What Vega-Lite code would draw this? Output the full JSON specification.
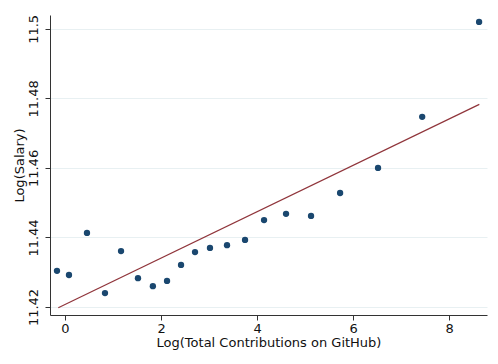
{
  "$schema": "https://vega.github.io/schema/vega-lite/v6.json",
  "width": 437,
  "height": 300,
  "autosize": {"type": "none"},
  "padding": {"left": 50, "top": 15, "right": 11, "bottom": 49},
  "background": "white",
  "config": {
    "view": {"stroke": null},
    "font": "DejaVu Sans",
    "axis": {
      "labelFont": "DejaVu Sans",
      "titleFont": "DejaVu Sans",
      "labelFontSize": 13,
      "titleFontSize": 13,
      "titleFontWeight": "normal",
      "labelColor": "#111111",
      "titleColor": "#111111",
      "domainColor": "#333333",
      "tickColor": "#333333",
      "tickSize": 5,
      "gridColor": "#e8f0f2",
      "gridWidth": 1
    }
  },
  "datasets": {
    "bins": [
      {"x": -0.167, "y": 11.4304},
      {"x": 0.083, "y": 11.4292},
      {"x": 0.458, "y": 11.4413},
      {"x": 0.833, "y": 11.4240},
      {"x": 1.167, "y": 11.4361},
      {"x": 1.52, "y": 11.4283},
      {"x": 1.83, "y": 11.4260},
      {"x": 2.125, "y": 11.4275},
      {"x": 2.417, "y": 11.4321},
      {"x": 2.708, "y": 11.4358},
      {"x": 3.02, "y": 11.4370},
      {"x": 3.375, "y": 11.4378},
      {"x": 3.75, "y": 11.4393},
      {"x": 4.146, "y": 11.4450},
      {"x": 4.604, "y": 11.4468},
      {"x": 5.125, "y": 11.4462},
      {"x": 5.73, "y": 11.4528},
      {"x": 6.52, "y": 11.4600},
      {"x": 7.44, "y": 11.4747},
      {"x": 8.625, "y": 11.5020}
    ],
    "fit": [
      {"x": -0.14, "y": 11.4198},
      {"x": 8.63, "y": 11.4783}
    ]
  },
  "layer": [
    {
      "data": {"name": "fit"},
      "mark": {"type": "line", "color": "#90353b", "strokeWidth": 1.2},
      "encoding": {
        "x": {"field": "x", "type": "quantitative"},
        "y": {"field": "y", "type": "quantitative"}
      }
    },
    {
      "data": {"name": "bins"},
      "mark": {"type": "point", "filled": true, "color": "#1a476f", "size": 40, "opacity": 1},
      "encoding": {
        "x": {
          "field": "x", "type": "quantitative",
          "scale": {"domain": [-0.3125, 8.79], "nice": false, "zero": false},
          "axis": {"title": "Log(Total Contributions on GitHub)", "values": [0, 2, 4, 6, 8], "grid": false, "labelPadding": 2, "titlePadding": 1}
        },
        "y": {
          "field": "y", "type": "quantitative",
          "scale": {"domain": [11.4177, 11.504], "nice": false, "zero": false},
          "axis": {"title": "Log(Salary)", "values": [11.42, 11.44, 11.46, 11.48, 11.5], "format": "~g", "grid": true, "labelAngle": -90, "labelAlign": "center", "labelBaseline": "bottom", "labelPadding": 5, "titlePadding": 1}
        }
      }
    }
  ]
}
